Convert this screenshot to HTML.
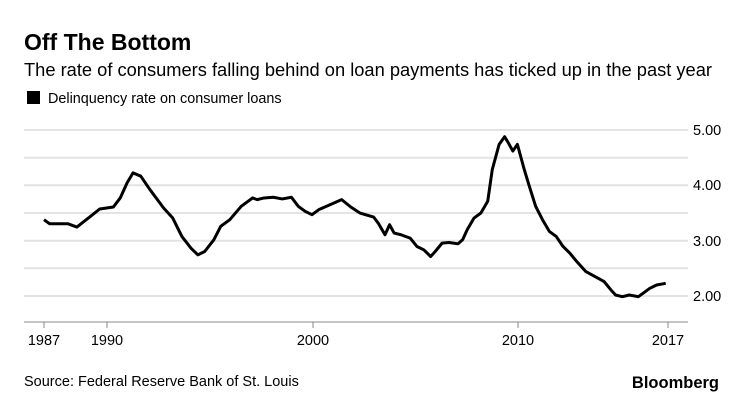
<!DOCTYPE html>
<html><head><meta charset="utf-8"><style>
body{margin:0;background:#fff;width:746px;height:415px;overflow:hidden;font-family:"Liberation Sans",sans-serif;color:#000}
</style></head><body>
<svg width="746" height="415" xmlns="http://www.w3.org/2000/svg" font-family="Liberation Sans, sans-serif">
<text x="24" y="50" font-size="23" font-weight="bold">Off The Bottom</text>
<text x="24" y="76" font-size="18.3">The rate of consumers falling behind on loan payments has ticked up in the past year</text>
<rect x="27" y="91" width="13" height="13" fill="#000"/>
<text x="48" y="103" font-size="14.4">Delinquency rate on consumer loans</text>
<g stroke="#e3e3e3" stroke-width="2">
<line x1="24" x2="688" y1="130" y2="130"/><line x1="24" x2="688" y1="157.7" y2="157.7"/>
<line x1="24" x2="688" y1="185.3" y2="185.3"/><line x1="24" x2="688" y1="213" y2="213"/>
<line x1="24" x2="688" y1="240.7" y2="240.7"/><line x1="24" x2="688" y1="268.3" y2="268.3"/>
<line x1="24" x2="688" y1="296" y2="296"/>
</g>
<line x1="24" x2="688" y1="322" y2="322" stroke="#888" stroke-width="1"/>
<g stroke="#888" stroke-width="1">
<line x1="44" x2="44" y1="322" y2="328"/><line x1="107" x2="107" y1="322" y2="328"/>
<line x1="313" x2="313" y1="322" y2="328"/><line x1="518" x2="518" y1="322" y2="328"/>
<line x1="668" x2="668" y1="322" y2="328"/>
</g>
<g font-size="14.5" fill="#000">
<text x="44" y="345" text-anchor="middle">1987</text><text x="107" y="345" text-anchor="middle">1990</text>
<text x="313" y="345" text-anchor="middle">2000</text><text x="518" y="345" text-anchor="middle">2010</text>
<text x="668" y="345" text-anchor="middle">2017</text>
<text x="693" y="135">5.00</text><text x="693" y="190">4.00</text>
<text x="693" y="246">3.00</text><text x="693" y="301">2.00</text>
</g>
<g transform="translate(22.09,119.29) scale(0.4565,0.3347)">
<polyline fill="none" stroke="#000" stroke-width="3" vector-effect="non-scaling-stroke" stroke-linejoin="round"
points="48,300 60,312 100,312 120,322 150,290 170,268 200,262 215,235 230,190 243,160 260,170 280,210 310,265 330,295 350,350 370,385 385,405 400,395 420,360 435,320 455,300 480,260 505,235 515,240 530,235 550,233 570,238 590,233 605,260 620,275 635,285 650,270 670,258 700,240 720,262 740,280 770,292 780,310 795,345 805,315 815,340 830,345 850,355 865,380 880,390 895,410 905,395 920,370 935,368 955,372 965,360 975,330 990,295 1005,280 1020,245 1030,150 1045,75 1057,52 1065,70 1075,95 1085,75 1100,150 1110,195 1125,260 1140,300 1155,335 1170,350 1185,380 1200,400 1215,425 1235,455 1255,470 1275,485 1290,510 1300,525 1315,530 1330,525 1350,530 1365,515 1375,505 1390,495 1410,490"/>
</g>
<text x="24" y="386" font-size="14.5">Source: Federal Reserve Bank of St. Louis</text>
<text x="719" y="388" font-size="16.5" font-weight="bold" text-anchor="end">Bloomberg</text>
</svg>
</body></html>
